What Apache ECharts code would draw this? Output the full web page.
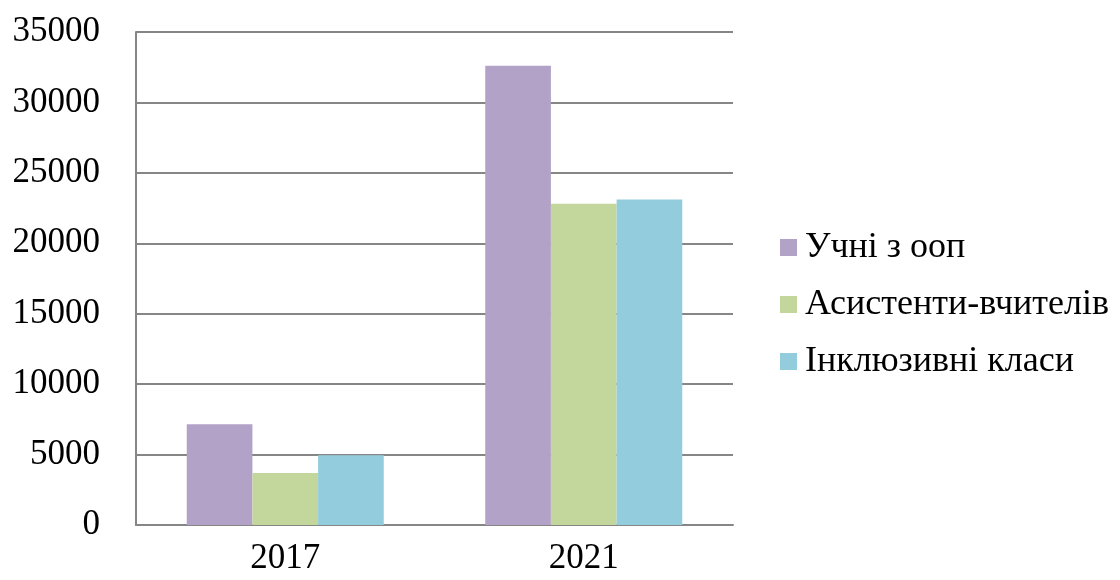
<!DOCTYPE html>
<html>
<head>
<meta charset="utf-8">
<script src="https://cdn.jsdelivr.net/npm/echarts@6/dist/echarts.min.js"></script>
<style>
  html, body { margin: 0; padding: 0; background: #ffffff; }
  #chart { width: 1120px; height: 580px; }
</style>
</head>
<body>
<div id="chart"></div>
<script>
// Categories (years) and series values
const years = ['2017', '2021'];
const studentsSEN = [7150, 32600];       // Учні з ООП
const teacherAssistants = [3700, 22800]; // Асистенти-вчителів
const inclusiveClasses = [4950, 23100];  // Інклюзивні класи

const seriesNames = ['Учні з ооп', 'Асистенти-вчителів', 'Інклюзивні класи'];
const seriesColors = ['#B3A2C7', '#C3D69B', '#93CDDD'];
const seriesData = [studentsSEN, teacherAssistants, inclusiveClasses];

const yTicks = { min: 0, max: 35000, interval: 5000 };

const fontFamily = 'Liberation Serif';
const axisGray = '#868686';

const chart = echarts.init(document.getElementById('chart'), null, { renderer: 'canvas' });

chart.setOption({
  backgroundColor: '#ffffff',
  animation: false,
  textStyle: { fontFamily: fontFamily },
  grid: { left: 136, right: 387, top: 32, bottom: 55, containLabel: false },
  legend: {
    orient: 'vertical',
    left: 775,
    top: 224,
    itemWidth: 17,
    itemHeight: 17,
    itemGap: 20,
    icon: 'rect',
    textStyle: {
      fontFamily: fontFamily,
      fontSize: 36,
      lineHeight: 37,
      color: '#000000',
      padding: [0, 0, 0, 3]
    },
    data: seriesNames
  },
  xAxis: {
    type: 'category',
    data: years,
    axisLine: { show: true, lineStyle: { color: axisGray, width: 2 } },
    axisTick: { show: false },
    axisLabel: { fontFamily: fontFamily, fontSize: 35, color: '#000000', margin: 16 }
  },
  yAxis: {
    type: 'value',
    min: yTicks.min,
    max: yTicks.max,
    interval: yTicks.interval,
    axisLine: { show: true, lineStyle: { color: axisGray, width: 2 } },
    axisTick: { show: false },
    axisLabel: {
      fontFamily: fontFamily,
      fontSize: 35,
      color: '#000000',
      margin: 36,
      formatter: (v) => String(v)
    },
    splitLine: { show: true, lineStyle: { color: axisGray, width: 2 } }
  },
  series: seriesNames.map((name, i) => ({
    name: name,
    type: 'bar',
    data: seriesData[i],
    barGap: '0%',
    barCategoryGap: '34%',
    itemStyle: { color: seriesColors[i] }
  }))
});
</script>
</body>
</html>
